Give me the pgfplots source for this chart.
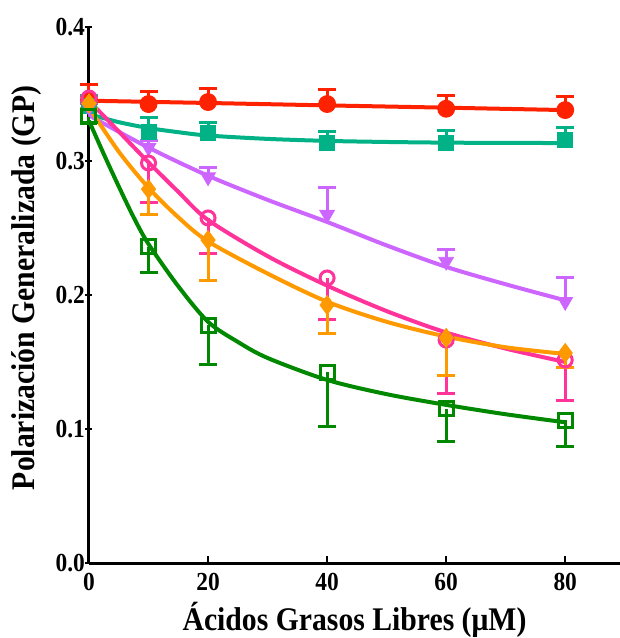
\documentclass[border=0pt]{standalone}
\usepackage{pgfplots}
\pgfplotsset{compat=1.18}
\usepackage{fontspec}
\setmainfont{Liberation Serif}[FakeStretch=0.9]
\definecolor{cred}{RGB}{255,34,0}
\definecolor{cteal}{RGB}{0,178,134}
\definecolor{cpurple}{RGB}{204,102,255}
\definecolor{cpink}{RGB}{255,51,153}
\definecolor{corange}{RGB}{255,153,0}
\definecolor{cgreen}{RGB}{0,136,0}
\begin{document}
\begin{tikzpicture}
\begin{axis}[
  scale only axis, width=265.5pt, height=268pt,
  xmin=0, xmax=89.2, ymin=0, ymax=0.4,
  axis x line*=bottom, axis y line*=left,
  axis line style={line width=1.5pt},
  clip=false,
  xtick={0,20,40,60,80}, ytick={0,0.1,0.2,0.3,0.4},
  tick align=inside, major tick length=3.75pt,
  tick style={line width=1.25pt, black},
  ytick style={xshift=-2pt},
  /pgf/number format/assume math mode=true,
  ticklabel style={font=\fontsize{13}{15}\selectfont\bfseries},
  xticklabel style={yshift=-1.5pt},
  yticklabel style={xshift=1.5pt, /pgf/number format/fixed, /pgf/number format/fixed zerofill, /pgf/number format/precision=1},
  xlabel={Ácidos Grasos Libres (μM)},
  ylabel={Polarización Generalizada (GP)},
  xlabel style={font=\fontsize{16.5}{18}\selectfont\bfseries, at={(axis description cs:0.5,-0.1250)}, anchor=base},
  ylabel style={font=\fontsize{16.5}{18}\selectfont\bfseries, at={(axis description cs:-0.1168,0.513)}, anchor=center},
]
% fitted curves
\addplot[cred, line width=2pt, no marks] coordinates {(0,0.345) (20,0.3433) (40,0.3415) (60,0.3398) (80,0.338)};
\addplot[cteal, line width=2pt, no marks, smooth] coordinates {(0,0.335) (5,0.329) (10,0.3246) (15,0.3215) (20,0.319) (30,0.3165) (40,0.315) (50,0.3142) (60,0.3137) (70,0.3135) (80,0.3134)};
\addplot[cpurple, line width=2pt, no marks, smooth] coordinates {(0,0.334) (10,0.310) (20,0.289) (30,0.271) (40,0.2545) (50,0.237) (60,0.221) (70,0.208) (80,0.196)};
\addplot[cpink, line width=2pt, no marks, smooth] coordinates {(0,0.345) (5,0.322) (10,0.299) (15,0.277) (20,0.256) (30,0.229) (40,0.207) (50,0.188) (60,0.172) (70,0.160) (80,0.150)};
\addplot[corange, line width=2pt, no marks, smooth] coordinates {(0,0.340) (5,0.307) (10,0.280) (15,0.258) (20,0.240) (30,0.216) (40,0.195) (50,0.180) (60,0.169) (70,0.161) (80,0.156)};
\addplot[cgreen, line width=2pt, no marks, smooth] coordinates {(0,0.330) (2.5,0.305) (5,0.281) (7.5,0.258) (10,0.238) (15,0.2065) (20,0.180) (25,0.165) (30,0.153) (40,0.1366) (50,0.126) (60,0.118) (70,0.111) (80,0.105)};
% data points with error bars
\addplot[only marks, cred, mark=*, mark size=4.25pt, mark options={solid, fill=cred},
  error bars/.cd, y dir=plus, y explicit,
  error bar style={line width=1.5pt, cred},
  error mark options={rotate=90, mark size=4.5pt, line width=1.5pt, cred}]
  coordinates {(0,0.346) +- (0,0.011) (10,0.3425) +- (0,0.009) (20,0.344) +- (0,0.010) (40,0.3425) +- (0,0.0105) (60,0.339) +- (0,0.010) (80,0.338) +- (0,0.010)};
\addplot[only marks, cteal, mark=square*, mark size=3.75pt, mark options={solid, fill=cteal},
  error bars/.cd, y dir=plus, y explicit,
  error bar style={line width=1.5pt, cteal},
  error mark options={rotate=90, mark size=4.5pt, line width=1.5pt, cteal}]
  coordinates {(0,0.341) +- (0,0.008) (10,0.3216) +- (0,0.011) (20,0.321) +- (0,0.008) (40,0.3134) +- (0,0.0086) (60,0.3134) +- (0,0.009) (80,0.3157) +- (0,0.0093)};
\addplot[only marks, cpurple, mark=triangle*, mark size=4.25pt, mark options={solid, fill=cpurple, rotate=180},
  error bars/.cd, y dir=plus, y explicit,
  error bar style={line width=1.5pt, cpurple},
  error mark options={rotate=90, mark size=4.5pt, line width=1.5pt, cpurple}]
  coordinates {(0,0.340) +- (0,0.004) (10,0.310) +- (0,0.005) (20,0.288) +- (0,0.0075) (40,0.260) +- (0,0.020) (60,0.225) +- (0,0.0086) (80,0.195) +- (0,0.0184)};
\addplot[only marks, cpink, mark=o, mark size=3.5pt, mark options={solid, fill=white, line width=1.5pt},
  error bars/.cd, y dir=minus, y explicit,
  error bar style={line width=1.5pt, cpink},
  error mark options={rotate=90, mark size=4.5pt, line width=1.5pt, cpink}]
  coordinates {(0,0.347) +- (0,0.004) (10,0.2985) +- (0,0.0298) (20,0.2575) +- (0,0.0269) (40,0.2127) +- (0,0.0307) (60,0.1664) +- (0,0.040) (80,0.1515) +- (0,0.030)};
\addplot[only marks, corange, mark=diamond*, mark size=4.75pt, mark options={solid, fill=corange},
  error bars/.cd, y dir=minus, y explicit,
  error bar style={line width=1.5pt, corange},
  error mark options={rotate=90, mark size=4.5pt, line width=1.5pt, corange}]
  coordinates {(0,0.343) +- (0,0.004) (10,0.279) +- (0,0.019) (20,0.241) +- (0,0.030) (40,0.1925) +- (0,0.021) (60,0.168) +- (0,0.028) (80,0.1567) +- (0,0.011)};
\addplot[only marks, cgreen, mark=square, mark size=3.5pt, mark options={solid, fill=white, line width=1.5pt},
  error bars/.cd, y dir=minus, y explicit,
  error bar style={line width=1.5pt, cgreen},
  error mark options={rotate=90, mark size=4.5pt, line width=1.5pt, cgreen}]
  coordinates {(0,0.333) +- (0,0.004) (10,0.236) +- (0,0.019) (20,0.1776) +- (0,0.0296) (40,0.1425) +- (0,0.0403) (60,0.115) +- (0,0.024) (80,0.1067) +- (0,0.020)};
\end{axis}
\pgfresetboundingbox
\path[use as bounding box] ([xshift=-44.5pt,yshift=-37.5pt]current axis.south west) rectangle ([yshift=13.5pt]current axis.north east);
\end{tikzpicture}
\end{document}
